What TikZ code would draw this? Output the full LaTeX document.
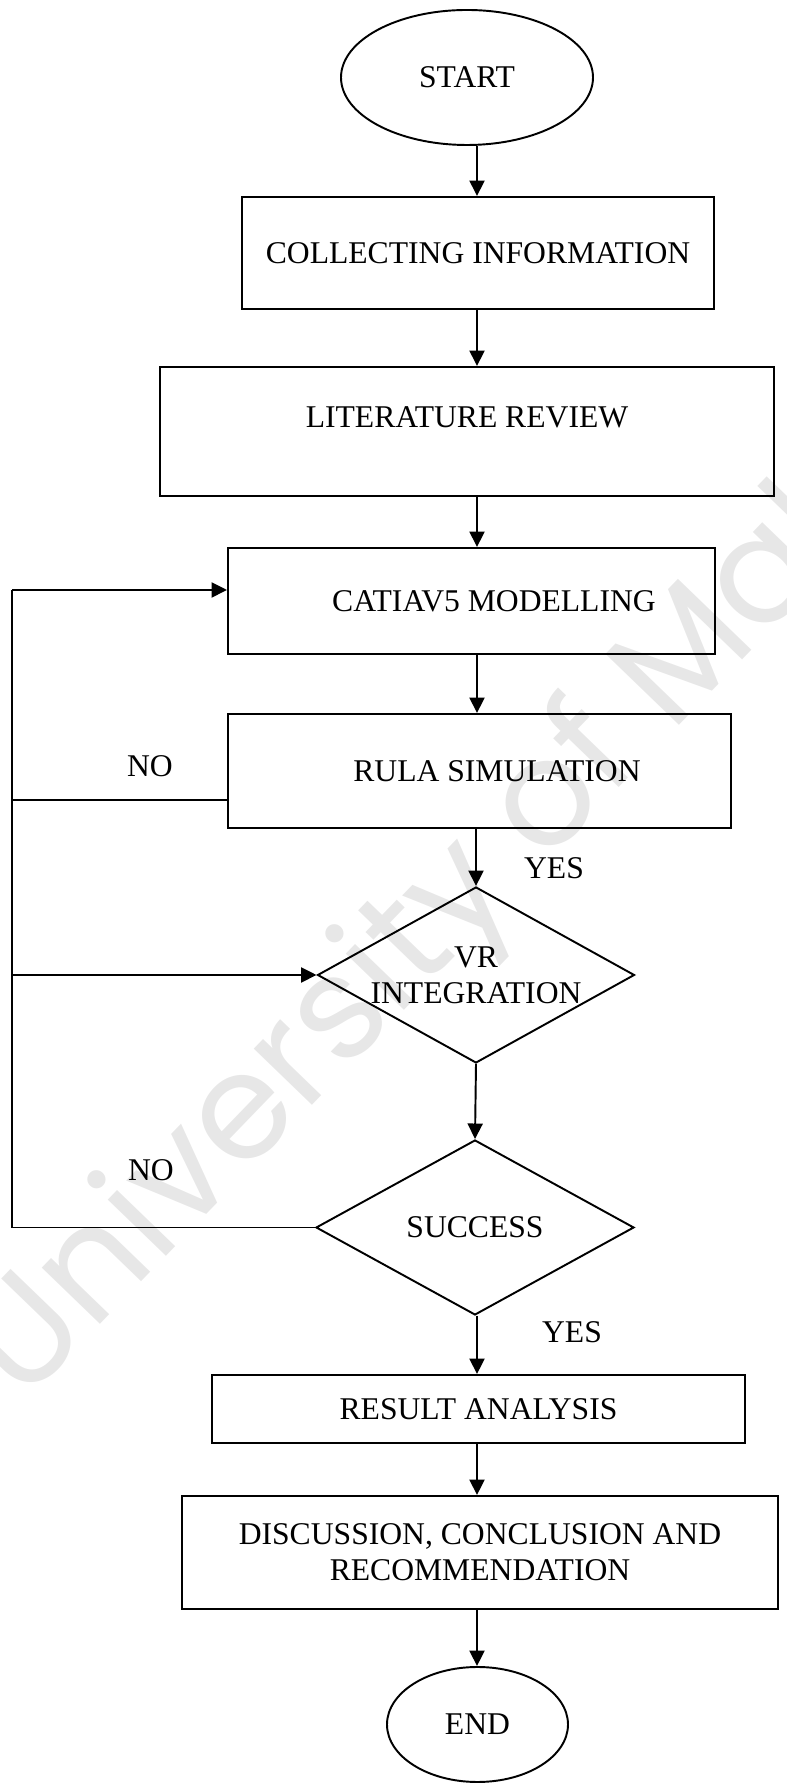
\documentclass[tikz,border=0pt]{standalone}
\usepackage{fontspec}
\setmainfont{Liberation Serif}
\newfontfamily\wmfont{Poppins}
\usetikzlibrary{shapes.geometric, arrows.meta, positioning}
\definecolor{wmgrey}{RGB}{231,231,231}

\begin{document}
\begin{tikzpicture}[
		font=\fontsize{18}{20.5}\selectfont,
		line width=1.1pt,
		procbox/.style={draw, rectangle, inner sep=0pt},
		termoval/.style={draw, ellipse, inner sep=0pt},
		decide/.style={draw, diamond, aspect=1.8, inner sep=0pt, align=center},
		arrline/.style={-{Triangle[length=0.31cm, width=0.3cm]}},
		lbl/.style={inner sep=0pt}
	]
				\useasboundingbox (0, 0) rectangle (15.72, 35.84);
				\clip (0, 0) rectangle (15.72, 35.84);

				\node[rotate=46, anchor=base west, text=wmgrey, inner sep=0pt, font=\wmfont\fontsize{84}{84}\selectfont] (watermark) at (0.46, 7.74) {University of Malaya};

				\node[termoval, minimum width=5.04cm, minimum height=2.70cm] (start) at (9.34, 34.29) {START};
				\node[procbox, minimum width=9.44cm, minimum height=2.24cm] (collect) at (9.56, 30.78) {COLLECTING INFORMATION};
				\node[procbox, minimum width=12.28cm, minimum height=2.58cm, text depth=0.58cm] (litreview) at (9.34, 27.21) {LITERATURE REVIEW};
				\node[procbox, minimum width=9.74cm, minimum height=2.12cm] (catia) at (9.43, 23.82) {\hspace*{0.9cm}CATIAV5 MODELLING};
				\node[procbox, minimum width=10.06cm, minimum height=2.28cm] (rula) at (9.59, 20.42) {\hspace*{0.7cm}RULA SIMULATION};
				\node[decide, minimum width=6.34cm, minimum height=3.52cm] (vrint) at (9.52, 16.34) {VR\\INTEGRATION};
				\node[decide, minimum width=6.36cm, minimum height=3.50cm] (success) at (9.50, 11.29) {SUCCESS};
				\node[procbox, minimum width=10.66cm, minimum height=1.36cm] (result) at (9.57, 7.66) {RESULT ANALYSIS};
				\node[procbox, align=center, minimum width=11.92cm, minimum height=2.26cm] (discuss) at (9.60, 4.79) {DISCUSSION, CONCLUSION AND\\RECOMMENDATION};
				\node[termoval, minimum width=3.62cm, minimum height=2.30cm] (finish) at (9.55, 1.35) {END};

				\node[lbl] (noa) at (3.00, 20.52) {NO};
				\node[lbl] (nob) at (3.02, 12.44) {NO};
				\node[lbl] (yesa) at (11.08, 18.48) {YES};
				\node[lbl] (yesb) at (11.44, 9.20) {YES};

				\coordinate (spine) at (9.54, 0);
				\draw[arrline] (start.south -| spine) -- (collect.north -| spine);
				\draw[arrline] (collect.south -| spine) -- (litreview.north -| spine);
				\draw[arrline] (litreview.south -| spine) -- (catia.north -| spine);
				\draw[arrline] (catia.south -| spine) -- (rula.north -| spine);
				\draw[arrline] (rula.south -| vrint.north) -- (vrint.north);
				\draw[arrline] (vrint.south) -- (success.north);
				\draw[arrline] (success.south -| spine) -- (result.north -| spine);
				\draw[arrline] (result.south -| spine) -- (discuss.north -| spine);
				\draw[arrline] (discuss.south -| spine) -- (finish.north -| spine);

				\coordinate (looptop) at (0.24, 24.04);
				\coordinate (rulaout) at ([yshift=-0.58cm]rula.west);
				\draw (success.west) -| (looptop);
				\draw[arrline] (looptop) -- (looptop -| catia.west);
				\draw (rulaout) -- (rulaout -| looptop);
				\draw[arrline] (vrint.west -| looptop) -- (vrint.west);

\end{tikzpicture}
\end{document}
